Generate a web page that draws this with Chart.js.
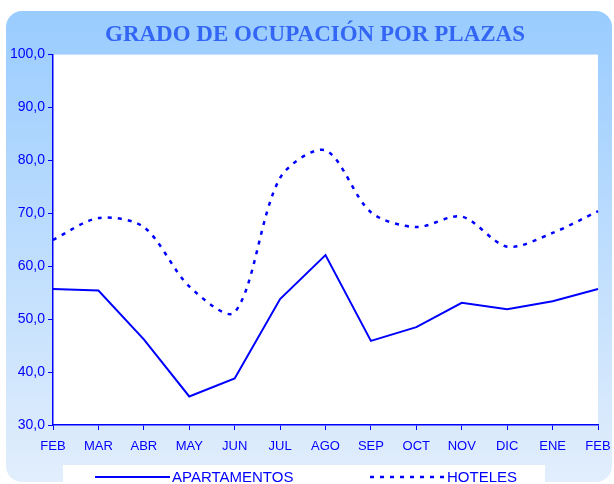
<!DOCTYPE html>
<html>
<head>
<meta charset="utf-8">
<script src="https://cdn.jsdelivr.net/npm/chart.js@4"></script>
<style>
  html, body { margin: 0; padding: 0; background: #fff; }
  #wrap { width: 614px; height: 484px; }
</style>
</head>
<body>
<div id="wrap"><canvas id="ocupacion" width="614" height="484"></canvas></div>
<script>
const months = ['FEB', 'MAR', 'ABR', 'MAY', 'JUN', 'JUL', 'AGO', 'SEP', 'OCT', 'NOV', 'DIC', 'ENE', 'FEB'];
const apartamentos = [55.7, 55.4, 46.2, 35.4, 38.8, 53.8, 62.1, 45.9, 48.5, 53.1, 51.9, 53.4, 55.7];
const hoteles = [65.0, 69.1, 67.4, 56.2, 51.3, 76.7, 81.9, 70.2, 67.4, 69.4, 63.7, 66.3, 70.4];
const yTicks = [30, 40, 50, 60, 70, 80, 90, 100];

const blue = '#0000ff';

// light blue rounded frame and white plot area
const frame = {
  id: 'frame',
  afterLayout(chart) {
    // let the y labels use the space left of the frame padding
    chart.scales.y.left = 0;
  },
  beforeDraw(chart) {
    const ctx = chart.ctx;
    const a = chart.chartArea;
    ctx.save();
    const g = ctx.createLinearGradient(0, 10, 0, 484);
    g.addColorStop(0, '#99ccff');
    g.addColorStop(1, '#e2eefc');
    ctx.fillStyle = g;
    ctx.beginPath();
    ctx.roundRect(6, 11, 606, 471, 16);
    ctx.fill();
    ctx.fillStyle = '#fff';
    ctx.fillRect(a.left, a.top, a.right - a.left, a.bottom - a.top);
    ctx.restore();
  }
};

// legend strip at the bottom, the way the original sheet lays it out
const bottomLegend = {
  id: 'bottomLegend',
  afterDraw(chart) {
    const ctx = chart.ctx;
    const y = 477;
    const slots = [95, 370];
    ctx.save();
    ctx.fillStyle = '#fff';
    ctx.fillRect(63, 465, 482, 19);
    chart.data.datasets.forEach((ds, i) => {
      const x = slots[i];
      ctx.strokeStyle = ds.borderColor;
      ctx.lineWidth = ds.borderWidth;
      ctx.setLineDash(ds.borderDash || []);
      ctx.beginPath();
      ctx.moveTo(x, y);
      ctx.lineTo(x + 75, y);
      ctx.stroke();
      ctx.fillStyle = blue;
      ctx.font = '15px "Liberation Sans"';
      ctx.textBaseline = 'middle';
      ctx.fillText(ds.label, x + 77, y + 1);
    });
    ctx.restore();
  }
};

new Chart('ocupacion', {
  type: 'line',
  data: {
    labels: months,
    datasets: [{
      label: 'APARTAMENTOS',
      data: apartamentos,
      borderColor: blue,
      borderWidth: 2,
      pointRadius: 0,
      tension: 0
    }, {
      label: 'HOTELES',
      data: hoteles,
      borderColor: blue,
      borderWidth: 2.5,
      borderDash: [4, 6],
      pointRadius: 0,
      tension: 0.3
    }]
  },
  plugins: [frame, bottomLegend],
  options: {
    responsive: false,
    animation: false,
    layout: { padding: { left: 32, right: 16, top: 0, bottom: 29 } },
    plugins: {
      title: {
        display: true,
        text: 'GRADO DE OCUPACIÓN POR PLAZAS',
        color: '#3366f5',
        font: { family: 'Liberation Serif', size: 23, weight: 'bold' },
        padding: { top: 21, bottom: 6 }
      },
      legend: { display: false },
      tooltip: { enabled: false }
    },
    scales: {
      x: {
        offset: false,
        afterFit: s => { s.height = 30; s.paddingLeft = 0; s.paddingRight = 0; },
        grid: { drawOnChartArea: false, color: blue, tickLength: 5 },
        border: { color: blue, width: 1.5 },
        ticks: {
          color: blue,
          padding: 9,
          maxRotation: 0,
          autoSkip: false,
          font: { family: 'Liberation Sans', size: 13 }
        }
      },
      y: {
        min: 30,
        max: 100,
        afterFit: s => { s.width = 21; },
        afterBuildTicks: s => { s.ticks = yTicks.map(v => ({ value: v })); },
        grid: { drawOnChartArea: false, color: blue, tickLength: 5 },
        border: { color: blue, width: 1.5 },
        ticks: {
          color: blue,
          padding: 3,
          font: { family: 'Liberation Sans', size: 14 },
          callback: v => v.toFixed(1).replace('.', ',')
        }
      }
    }
  }
});
</script>
</body>
</html>
